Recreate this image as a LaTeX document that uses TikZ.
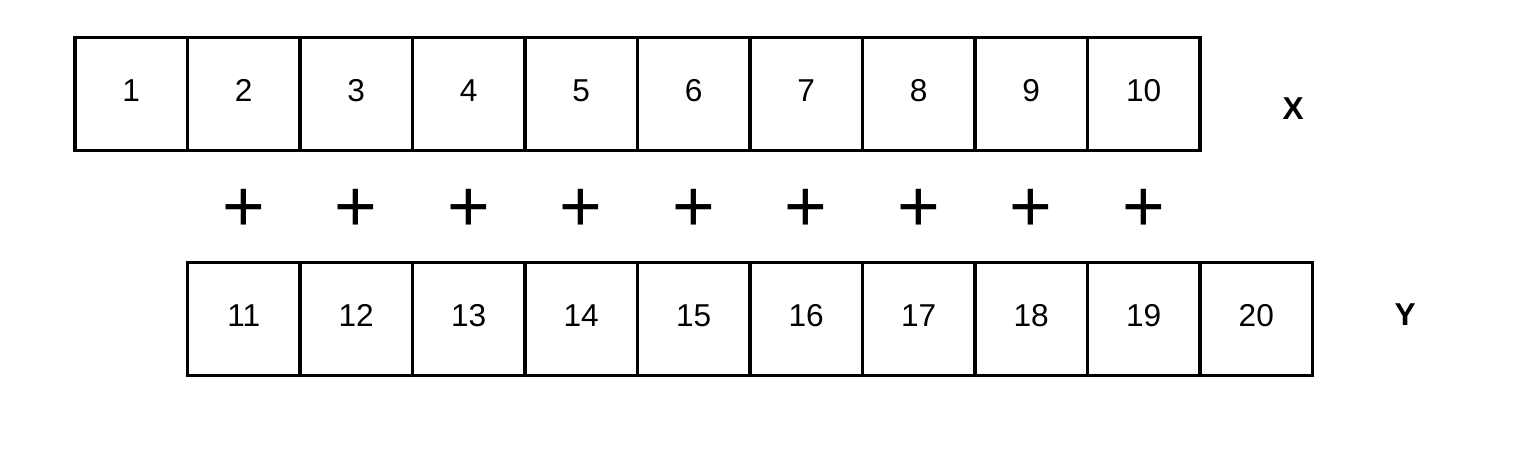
\documentclass[tikz,border=0pt]{standalone}
\usepackage{fontspec}
\setmainfont{Liberation Sans}
\tikzset{
  cell/.style={draw, line width=1.6pt, minimum size=2cm, inner sep=0pt,
    text height=11.6pt, text depth=4pt, font=\fontsize{16}{19}\selectfont},
  plus/.style={inner sep=0pt, font=\fontsize{37}{40}\selectfont},
  rowname/.style={font=\fontsize{16}{19}\selectfont\bfseries}
}
\begin{document}
\begin{tikzpicture}
	\useasboundingbox (0,0) rectangle (27.342,-8.018);
	% top row
	\foreach \i in {1,...,10}
		\node[cell] (x\i) at ({0.333+2*\i},-1.671) {\i};
	% bottom row
	\foreach \i [evaluate=\i as \j using int(\i+10)] in {1,...,10}
		\node[cell] (y\j) at ({2.333+2*\i},-5.671) {\j};
	% plus signs
	\foreach \i in {1,...,9}
		\node[plus] (p\i) at ({2.333+2*\i},-3.74) {+};
	\node[rowname] (lx) at (22.99,-1.93) {X};
	\node[rowname] (ly) at (24.98,-5.6) {Y};
\end{tikzpicture}
\end{document}
